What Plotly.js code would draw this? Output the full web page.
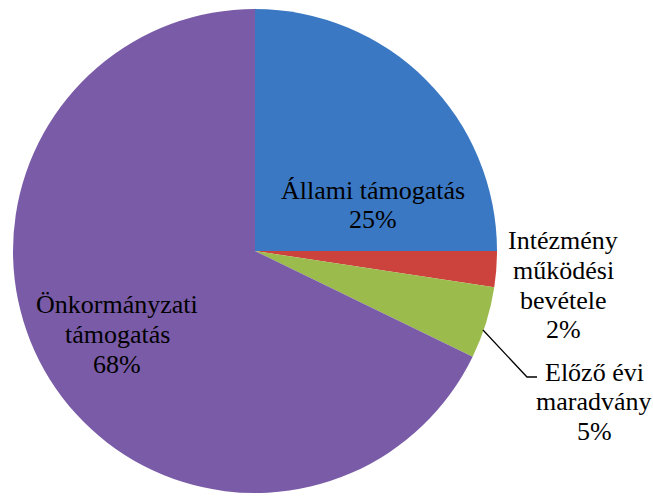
<!DOCTYPE html>
<html>
<head>
<meta charset="utf-8">
<script src="https://cdn.plot.ly/plotly-3.0.1.min.js"></script>
<style>html,body{margin:0;padding:0;background:#fff;}#chart{width:653px;height:496px;}</style>
</head>
<body>
<div id="chart"></div>
<script>
// ---- data ----
var categories = ["Állami támogatás", "Intézmény működési bevétele", "Előző évi maradvány", "Önkormányzati támogatás"];
var labelLines = [["Állami támogatás"], ["Intézmény", "működési", "bevétele"], ["Előző évi", "maradvány"], ["Önkormányzati", "támogatás"]];
var values = [25.0, 2.4, 4.8, 67.8];

// ---- styles / layout ----
var colors = ["#3b78c3", "#cc433e", "#9bbb4d", "#7a5ba7"];
var W = 653, H = 496;
var FONT = "Liberation Serif";
var FSIZE = 26;
// label block anchors in pixels: centre x, first-line centre y, line step
var labelPos = [
  {x: 373, y: 190, step: 29.5},
  {x: 563, y: 241, step: 29.5},
  {x: 594, y: 372, step: 29.5},
  {x: 117, y: 304, step: 30}
];

function px(x) { return x / W; }
function py(y) { return 1 - y / H; }

var total = values.reduce(function (a, b) { return a + b; }, 0);

var annotations = [];
values.forEach(function (v, i) {
  var lines = labelLines[i].concat([Math.round(v / total * 100) + "%"]);
  var p = labelPos[i];
  lines.forEach(function (t, j) {
    annotations.push({
      xref: "paper", yref: "paper",
      x: px(p.x), y: py(p.y + j * p.step),
      xanchor: "center", yanchor: "middle",
      text: t, showarrow: false, borderpad: 0,
      font: {family: FONT, size: FSIZE, color: "#000000"}
    });
  });
});

var trace = {
  type: "pie",
  labels: categories,
  values: values,
  textinfo: "none",
  sort: false,
  direction: "clockwise",
  rotation: 0,
  automargin: false,
  marker: {colors: colors, line: {width: 0}},
  hoverinfo: "label+percent",
  domain: {x: [px(13), px(497)], y: [py(493), py(9)]}
};

var layout = {
  width: W,
  height: H,
  margin: {l: 0, r: 0, t: 0, b: 0},
  showlegend: false,
  paper_bgcolor: "#ffffff",
  plot_bgcolor: "#ffffff",
  font: {family: FONT, size: FSIZE, color: "#000000"},
  annotations: annotations,
  shapes: [{
    type: "path", xref: "paper", yref: "paper",
    path: "M " + px(483) + " " + py(330) + " L " + px(527) + " " + py(377) + " L " + px(537) + " " + py(377),
    line: {color: "#000000", width: 1.3}
  }]
};

Plotly.newPlot("chart", [trace], layout, {displayModeBar: false, staticPlot: true});
</script>
</body>
</html>
